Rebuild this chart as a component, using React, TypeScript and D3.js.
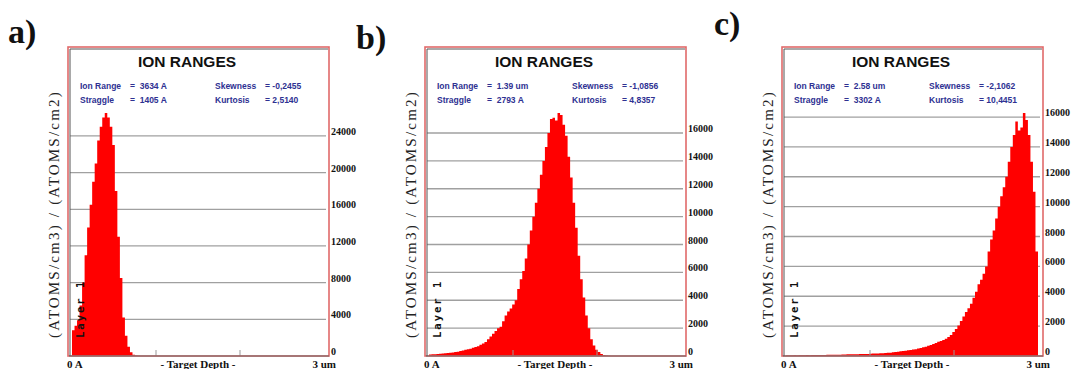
import React, { useEffect, useRef } from "react";
import * as d3 from "d3";

// text for the three panels
const panelLabels = ["a)", "b)", "c)"];
const ionRange = ["3634 A", "1.39 um", "2.58 um"];
const straggle = ["1405 A", "2793 A", "3302 A"];
const skewness = ["-0,2455", "-1,0856", "-2,1062"];
const kurtosis = ["2,5140", "4,8357", "10,4451"];

// (atoms/cm3)/(atoms/cm2) per 300 A depth bin, from the surface
const profileA = [
    2800, 3300, 3900, 5500, 8000, 11000, 14000, 16500, 19000, 21000,
    23500, 25000, 26000, 26500, 26000, 25000, 23000, 18000, 13000, 8500,
    4200, 2200, 1000, 400, 150, 50, 15,
];
const profileB = [
    100, 120, 130, 150, 170, 180, 200, 210, 230, 250,
    280, 300, 350, 400, 450, 480, 520, 600, 650, 700,
    800, 900, 1000, 1200, 1400, 1600, 1800, 2000, 2100, 2500,
    2900, 3200, 3400, 3700, 4000, 4800, 5500, 6100, 7000, 8000,
    9000, 10000, 11000, 12000, 13000, 14000, 15000, 16000, 17000, 17100,
    16900, 17435, 17300, 16600, 15800, 14300, 12800, 11000, 9200, 7200,
    5500, 4200, 2900, 2000, 1200, 750, 450, 280, 150, 80,
    40, 15,
];
const profileC = [
    40, 40, 40, 50, 40, 50, 50, 50, 60, 50,
    60, 60, 60, 70, 70, 70, 80, 80, 80, 90,
    90, 90, 100, 100, 110, 110, 110, 120, 120, 130,
    130, 140, 140, 150, 160, 160, 170, 180, 190, 200,
    210, 220, 250, 270, 290, 310, 330, 350, 380, 400,
    430, 460, 500, 540, 580, 620, 680, 740, 800, 870,
    950, 1000, 1070, 1150, 1270, 1400, 1600, 1800, 2050, 2350,
    2650, 2950, 3200, 3500, 3900, 4300, 4800, 5100, 5500, 6000,
    7000, 7800, 8400, 9200, 10000, 10700, 11300, 12000, 13000, 14000,
    14800, 15700, 15100, 15300, 16270, 15800, 14800, 13000, 11000, 7000,
];
const profiles = [profileA, profileB, profileC];

const yTicksA = [0, 4000, 8000, 12000, 16000, 20000, 24000];
const yTicksBC = [0, 2000, 4000, 6000, 8000, 10000, 12000, 14000, 16000];
const yTicks = [yTicksA, yTicksBC, yTicksBC];
const depthTicks = [1, 2]; // um
const depthMax = 3; // um
const binWidth = 0.03; // um

const W = 1074;
const H = 369;
const frameX = [68, 425, 782];
const labelPos = [
    { x: 8, y: 43 },
    { x: 356, y: 49 },
    { x: 714, y: 35 },
];

const App: React.FC = () => {
    const svgRef = useRef<SVGSVGElement>(null);

    useEffect(() => {
        if (!svgRef.current) return;
        const svg = d3.select(svgRef.current);
        svg.selectAll("*").remove();

        const top = 47;
        const bottom = 356;
        const fw = 261;

        profiles.forEach((data, p) => {
            const fx = frameX[p];
            const g = svg.append("g");

            const x = d3.scaleLinear().domain([0, depthMax]).range([fx + 4, fx + 256]);
            const y = d3
                .scaleLinear()
                .domain([0, d3.max(data) ?? 1])
                .range([bottom, 113]);

            // panel letter
            svg.append("text")
                .attr("x", labelPos[p].x)
                .attr("y", labelPos[p].y)
                .attr("font-family", "'Liberation Serif', serif")
                .attr("font-weight", "bold")
                .attr("font-size", 34)
                .attr("fill", "#111")
                .text(panelLabels[p]);

            // white plot box
            g.append("rect")
                .attr("x", fx)
                .attr("y", top)
                .attr("width", fw)
                .attr("height", bottom - top)
                .attr("fill", "#fff");

            // gridlines
            g.selectAll(".grid")
                .data(yTicks[p].filter(v => v > 0))
                .join("line")
                .attr("x1", fx + 2)
                .attr("x2", fx + fw - 3)
                .attr("y1", d => y(d))
                .attr("y2", d => y(d))
                .attr("stroke", "#a0a0a0")
                .attr("stroke-width", 1.3);

            // histogram
            const area = d3
                .area<number>()
                .x((_, i) => x(i * binWidth))
                .y0(y(0))
                .y1(d => y(d))
                .curve(d3.curveStepAfter);
            g.append("path")
                .datum(data.concat([data[data.length - 1]]))
                .attr("fill", "#ff0000")
                .attr("d", area);

            // depth ticks
            g.selectAll(".xt")
                .data(depthTicks)
                .join("line")
                .attr("x1", d => x(d))
                .attr("x2", d => x(d))
                .attr("y1", bottom)
                .attr("y2", bottom - 6)
                .attr("stroke", "#999")
                .attr("stroke-width", 1);

            // frame: red outside, dark line inside
            g.append("rect")
                .attr("x", fx)
                .attr("y", top)
                .attr("width", fw)
                .attr("height", bottom - top)
                .attr("fill", "none")
                .attr("stroke", "#e06a6a")
                .attr("stroke-width", 1.6);
            g.append("path")
                .attr("d", `M${fx + 2},${bottom} V${top + 2} H${fx + fw - 1}`)
                .attr("fill", "none")
                .attr("stroke", "#555")
                .attr("stroke-width", 1);
            g.append("line")
                .attr("x1", fx + 1)
                .attr("x2", fx + fw)
                .attr("y1", bottom)
                .attr("y2", bottom)
                .attr("stroke", "#666")
                .attr("stroke-width", 1.2);

            // title and stats
            g.append("text")
                .attr("x", fx + 119)
                .attr("y", 66.5)
                .attr("text-anchor", "middle")
                .attr("font-family", "'Liberation Sans', Arial, sans-serif")
                .attr("font-weight", "bold")
                .attr("font-size", 15.5)
                .attr("fill", "#111")
                .text("ION RANGES");

            const stats = [
                { dx: 12, dy: 89, t: "Ion Range" },
                { dx: 62, dy: 89, t: `=  ${ionRange[p]}` },
                { dx: 147, dy: 89, t: "Skewness" },
                { dx: 197, dy: 89, t: `= ${skewness[p]}` },
                { dx: 12, dy: 103, t: "Straggle" },
                { dx: 62, dy: 103, t: `=  ${straggle[p]}` },
                { dx: 147, dy: 103, t: "Kurtosis" },
                { dx: 197, dy: 103, t: `= ${kurtosis[p]}` },
            ];
            g.selectAll(".stat")
                .data(stats)
                .join("text")
                .attr("x", d => fx + d.dx)
                .attr("y", d => d.dy)
                .attr("font-family", "'Liberation Sans', Arial, sans-serif")
                .attr("font-weight", "bold")
                .attr("font-size", 8.5)
                .attr("fill", "#2e3192")
                .style("white-space", "pre")
                .text(d => d.t);

            // right-hand tick labels
            g.selectAll(".yl")
                .data(yTicks[p])
                .join("text")
                .attr("x", fx + 263)
                .attr("y", d => y(d) - 1)
                .attr("font-family", "'Liberation Serif', serif")
                .attr("font-weight", "bold")
                .attr("font-size", 10)
                .attr("fill", "#111")
                .text(d => String(d));

            // depth labels
            const bl = [
                { x: fx - 1, a: "start", t: "0 A" },
                { x: fx + 130, a: "middle", t: "- Target Depth -" },
                { x: fx + 268, a: "end", t: "3 um" },
            ];
            g.selectAll(".xl")
                .data(bl)
                .join("text")
                .attr("x", d => d.x)
                .attr("y", 368)
                .attr("text-anchor", d => d.a)
                .attr("font-family", "'Liberation Serif', serif")
                .attr("font-weight", "bold")
                .attr("font-size", 11)
                .attr("fill", "#111")
                .text(d => d.t);

            // y axis title
            g.append("text")
                .attr("transform", `translate(${fx - 9},214) rotate(-90)`)
                .attr("text-anchor", "middle")
                .attr("font-family", "'Liberation Serif', serif")
                .attr("font-size", 15)
                .attr("letter-spacing", 2.2)
                .attr("fill", "#222")
                .text("(ATOMS/cm3) / (ATOMS/cm2)");

            // layer tag
            g.append("text")
                .attr("transform", `translate(${fx + 15.5},338) rotate(-90)`)
                .attr("font-family", "'DejaVu Sans Mono', monospace")
                .attr("font-weight", "bold")
                .attr("font-size", 10.5)
                .attr("letter-spacing", 2)
                .attr("fill", "#111")
                .text("Layer 1");
        });
    }, []);

    return (
        <svg
            ref={svgRef}
            width={W}
            height={H}
            style={{ position: "absolute", left: 0, top: 0, display: "block", background: "#fff" }}
        ></svg>
    );
};

export default App;
